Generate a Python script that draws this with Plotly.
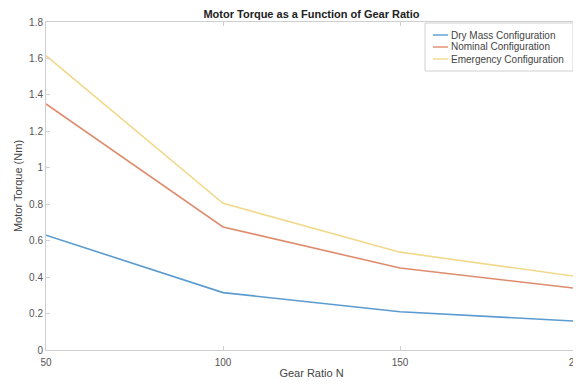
import plotly.graph_objects as go

gear_ratio = [50, 100, 150, 200]
dry_mass = [0.63, 0.315, 0.21, 0.158]
nominal = [1.35, 0.675, 0.45, 0.338]
emergency = [1.615, 0.805, 0.537, 0.403]

names = ["Dry Mass Configuration", "Nominal Configuration", "Emergency Configuration"]
colors = ["#5b9bd0", "#de8c6e", "#f1d98c"]

# the page body has an 8px margin, so the figure is made 8px smaller
W, H = 573, 377
L, R, T, B = 38, 4, 14, 35
plot_w, plot_h = W - L - R, H - T - B

def px(x):
    return (x - L) / plot_w

def py(y):
    return 1 - (y - T) / plot_h

fig = go.Figure()
for name, vals, col in zip(names, [dry_mass, nominal, emergency], colors):
    fig.add_trace(go.Scatter(x=gear_ratio, y=vals, mode="lines", name=name,
                             line=dict(color=col, width=1.6), showlegend=False))

axis_style = dict(showline=True, linecolor="#cfcfcf", linewidth=1, mirror="ticks",
                  ticks="inside", ticklen=4, tickcolor="#cfcfcf", showgrid=False,
                  zeroline=False, automargin=False, ticklabeloverflow="allow",
                  tickfont=dict(size=10, color="#555555"),
                  title_font=dict(size=11, color="#444444"))

fig.update_xaxes(range=[50, 200], tickvals=[50, 100, 150, 200], ticklabelstandoff=3,
                 title_text="Gear Ratio N", title_standoff=2, **axis_style)
fig.update_yaxes(range=[0, 1.8], tickvals=[0, 0.2, 0.4, 0.6, 0.8, 1, 1.2, 1.4, 1.6, 1.8],
                 ticktext=["0", "0.2", "0.4", "0.6", "0.8", "1", "1.2", "1.4", "1.6", "1.8"],
                 ticklabelstandoff=0, title_text="Motor Torque (Nm)", title_standoff=4,
                 **axis_style)

# MATLAB-style compact legend box in the top right corner
shapes = [dict(type="rect", xref="paper", yref="paper",
               x0=px(417), x1=px(565), y0=py(15), y1=py(63),
               line=dict(color="#d0d0d0", width=1), fillcolor="white", layer="above")]
annotations = []
for i, (name, col) in enumerate(zip(names, colors)):
    row_y = py(27 + 12 * i)
    shapes.append(dict(type="line", xref="paper", yref="paper",
                       x0=px(425), x1=px(440), y0=row_y, y1=row_y,
                       line=dict(color=col, width=1.4), layer="above"))
    annotations.append(dict(text=name, xref="paper", yref="paper", x=px(441), y=row_y,
                            xanchor="left", yanchor="middle", showarrow=False,
                            font=dict(size=10, color="#444444")))

fig.update_layout(
    width=W, height=H,
    margin=dict(l=L, r=R, t=T, b=B),
    paper_bgcolor="white", plot_bgcolor="white",
    font=dict(family="Liberation Sans, Arial, sans-serif", color="#444444"),
    title=dict(text="<b>Motor Torque as a Function of Gear Ratio</b>",
               x=0.5, xref="paper", y=1 - 6 / H, yanchor="middle",
               font=dict(size=11, color="#222222")),
    shapes=shapes,
    annotations=annotations,
    showlegend=False,
)

fig.write_html("out.html")
